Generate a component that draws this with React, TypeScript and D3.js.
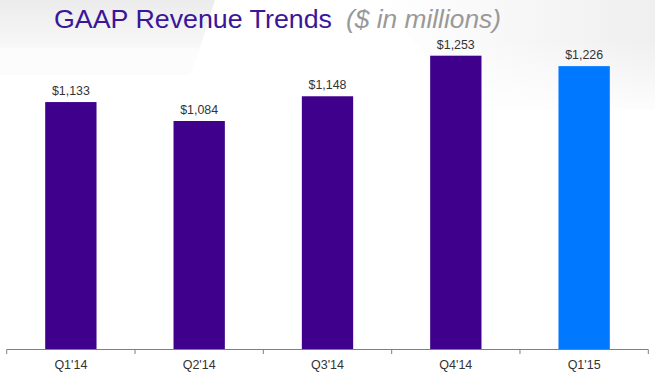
import React from "react";
import * as d3 from "d3";

const categories = ["Q1'14", "Q2'14", "Q3'14", "Q4'14", "Q1'15"];
const revenue = [1133, 1084, 1148, 1253, 1226];
const valueLabels = ["$1,133", "$1,084", "$1,148", "$1,253", "$1,226"];
const highlight = [false, false, false, false, true];

const W = 655;
const H = 380;

export default function App() {
  const x = d3
    .scaleBand<string>()
    .domain(categories)
    .range([6.7, 648.3])
    .paddingInner(0.6)
    .paddingOuter(0.3);
  const y = d3.scaleLinear().domain([494, 1253]).range([349, 55.7]);
  const step = x.step();
  const gap = (step - x.bandwidth()) / 2;
  const tickXs = categories.map((c) => (x(c) as number) - gap).concat([648.3]);

  return (
    <svg
      width={W}
      height={H}
      style={{ position: "fixed", left: 0, top: 0 }}
      fontFamily="Arial, 'Liberation Sans', sans-serif"
    >
      <defs>
        <linearGradient id="bgL" x1="0" y1="0" x2="0" y2="1">
          <stop offset="0" stopColor="#ececec" />
          <stop offset="1" stopColor="#f8f8f8" />
        </linearGradient>
        <linearGradient id="bgR" x1="0" y1="0" x2="1" y2="0">
          <stop offset="0" stopColor="#ffffff" />
          <stop offset="1" stopColor="#efefef" />
        </linearGradient>
        <linearGradient id="fadeV" x1="0" y1="0" x2="0" y2="1">
          <stop offset="0" stopColor="#ffffff" stopOpacity="0" />
          <stop offset="1" stopColor="#ffffff" stopOpacity="1" />
        </linearGradient>
      </defs>
      <rect x={0} y={0} width={W} height={H} fill="#ffffff" />
      <polygon points="0,0 215,0 200,48 0,48" fill="url(#bgL)" />
      <polygon points="380,0 655,0 655,110 470,110" fill="url(#bgR)" />
      <rect x={0} y={40} width={W} height={80} fill="url(#fadeV)" />
      <polygon points="0,48 200,48 190,75 0,75" fill="#fafafa" opacity={0.6} />

      <text x={54} y={28} fontSize={26.5} fill="#3a1699" textLength={278} lengthAdjust="spacingAndGlyphs">
        GAAP Revenue Trends
      </text>
      <text
        x={346}
        y={28}
        fontSize={26.5}
        fontStyle="italic"
        fill="#999999"
        textLength={155}
        lengthAdjust="spacingAndGlyphs"
      >
        ($ in millions)
      </text>

      {categories.map((c, i) => (
        <g key={c}>
          <rect
            x={x(c)}
            y={y(revenue[i])}
            width={x.bandwidth()}
            height={y(494) - y(revenue[i])}
            fill={highlight[i] ? "#0078ff" : "#3f008c"}
          />
          <text
            x={(x(c) as number) + x.bandwidth() / 2}
            y={y(revenue[i]) - 7}
            textAnchor="middle"
            fontSize={12.4}
            fill="#333333"
          >
            {valueLabels[i]}
          </text>
          <text
            x={(x(c) as number) + x.bandwidth() / 2}
            y={369}
            textAnchor="middle"
            fontSize={12.5}
            fill="#333333"
          >
            {c}
          </text>
        </g>
      ))}

      <line x1={6.7} x2={648.3} y1={349.5} y2={349.5} stroke="#7f7f7f" strokeWidth={1} />
      {tickXs.map((tx, i) => (
        <line key={i} x1={tx} x2={tx} y1={349.5} y2={354} stroke="#7f7f7f" strokeWidth={1} />
      ))}
    </svg>
  );
}
